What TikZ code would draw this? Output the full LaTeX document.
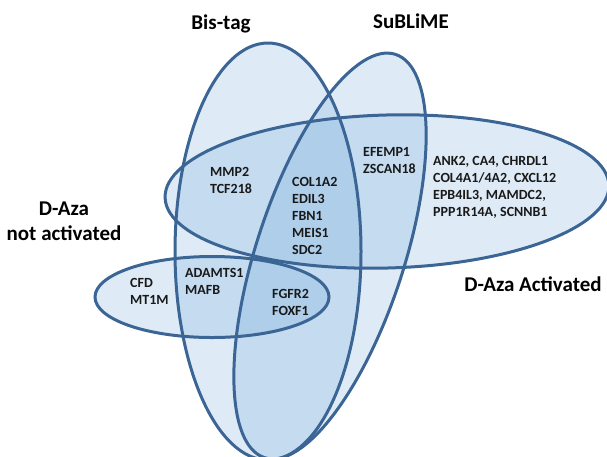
\documentclass[tikz,border=0pt]{standalone}
\usepackage{fontspec}
\setmainfont{Carlito}
\definecolor{vfill}{HTML}{5B9BD5}
\definecolor{vline}{HTML}{3A6595}
\begin{document}
\begin{tikzpicture}[x=1pt,y=-1pt,
  setfill/.style={fill=vfill, fill opacity=0.2, draw=none},
  setline/.style={draw=vline, line width=3pt},
  gene/.style={font=\fontsize{14}{17}\selectfont\bfseries, align=left, anchor=west, inner sep=0pt, text=black!90},
  settitle/.style={font=\fontsize{21}{25}\selectfont\bfseries, inner sep=0pt, anchor=base, text=black}]
\useasboundingbox (0,0) rectangle (607,456);
\coordinate (cB) at (268,251.5);
\coordinate (cS) at (330,256);
\coordinate (cA) at (387,191.5);
\coordinate (cN) at (212,297);
% fills
\fill[setfill] (cB) ellipse [x radius=93, y radius=208.5];
\fill[setfill, rotate around={-18:(cS)}] (cS) ellipse [x radius=74, y radius=212];
\fill[setfill, rotate around={1.6:(cA)}] (cA) ellipse [x radius=222, y radius=76.5];
\fill[setfill] (cN) ellipse [x radius=117, y radius=40.5];
% outlines
\draw[setline] (cB) ellipse [x radius=93, y radius=208.5];
\draw[setline, rotate around={-18:(cS)}] (cS) ellipse [x radius=74, y radius=212];
\draw[setline, rotate around={1.6:(cA)}] (cA) ellipse [x radius=222, y radius=76.5];
\draw[setline] (cN) ellipse [x radius=117, y radius=40.5];
% titles
\node[settitle] (tB) at (221,29.5) {Bis-tag};
\node[settitle] (tS) at (411,28.5) {SuBLiME};
\node[settitle, align=center] (tN) at (64,240) {D-Aza\\not activated};
\node[settitle] (tA) at (533,291.5) {D-Aza Activated};
% genes
\node[gene] (g1) at (210,180.5) {MMP2\\TCF218};
\node[gene] (g2) at (292,216) {COL1A2\\EDIL3\\FBN1\\MEIS1\\SDC2};
\node[gene] (g3) at (363,160.5) {EFEMP1\\ZSCAN18};
\node[gene] (g4) at (433,187.5) {ANK2, CA4, CHRDL1\\COL4A1/4A2, CXCL12\\EPB4IL3, MAMDC2,\\PPP1R14A, SCNNB1};
\node[gene] (g5) at (130,291.5) {CFD\\MT1M};
\node[gene] (g6) at (185,281.5) {ADAMTS1\\MAFB};
\node[gene] (g7) at (272,302) {FGFR2\\FOXF1};
\end{tikzpicture}
\end{document}
